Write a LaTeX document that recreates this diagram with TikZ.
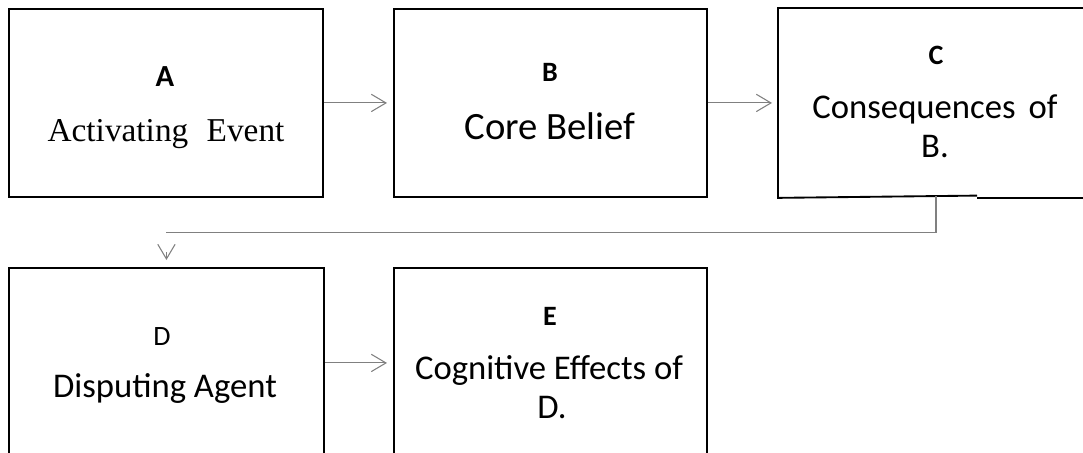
\documentclass[tikz,border=0pt]{standalone}
\usepackage{fontspec}
\setmainfont{Carlito}
\newfontfamily\timesf{Liberation Serif}
\usetikzlibrary{arrows.meta}
\definecolor{conngray}{RGB}{128,128,128}
\begin{document}
\begin{tikzpicture}[x=0.75pt,y=-0.75pt,
  boxline/.style={draw=black,line width=1.4pt},
  box/.style={boxline,inner sep=0pt,anchor=north west},
  connline/.style={draw=conngray,line width=0.8pt},
  conn/.style={connline,-{Straight Barb[length=11pt,width=13pt]}},
  ttl/.style={anchor=base,inner sep=0pt,font=\fontsize{21}{25}\selectfont\bfseries},
  txt/.style={anchor=base,inner sep=0pt,font=\fontsize{26}{31}\selectfont}]
\useasboundingbox (0,0) rectangle (1083,453);
\clip (0,0) rectangle (1083,453);
% boxes
\node[box,minimum width=235.5pt,minimum height=141pt] (A) at (8,8) {};
\node[box,minimum width=234.75pt,minimum height=141pt] (B) at (393,8) {};
\node[box,draw=none,minimum width=255pt,minimum height=141pt] (C) at (778,8) {};
\draw[boxline] (977,195.6) -- (C.south west) -- (C.north west) -- (C.north east);
\draw[boxline] (977,197.6) -- (C.south east |- 0,197.6);
\node[box,minimum width=236.25pt,minimum height=142.5pt] (D) at (8,267) {};
\node[box,minimum width=234.75pt,minimum height=142.5pt] (E) at (393,267) {};
% texts
\node[ttl,font=\fontsize{23}{27}\selectfont\bfseries] (At) at (165,87) {A};
\node[txt,font=\fontsize{25}{30}\timesf] (Ab) at (166,142) {Activating\hspace{0.3em} Event};
\node[ttl] (Bt) at (550,82) {B};
\node[txt,font=\fontsize{29}{34}\selectfont] (Bb) at (550,140) {Core Belief};
\node[ttl] (Ct) at (936,65) {C};
\node[txt] (Cb1) at (935,118) {Consequences\hspace{0.15em} of};
\node[txt] (Cb2) at (935,157) {B.};
\node[ttl,font=\fontsize{21}{25}\selectfont] (Dt) at (162,345) {D};
\node[txt] (Db) at (165,397) {Disputing Agent};
\node[ttl] (Et) at (550,325) {E};
\node[txt] (Eb1) at (549,379) {Cognitive Effects of};
\node[txt] (Eb2) at (552,418) {D.};
% connectors
\draw[conn,shorten >=4.5pt] (A.east) -- (B.west);
\draw[conn,shorten >=4.5pt] (B.east) -- (C.west);
\draw[conn,shorten >=4.5pt] (D.east) -- (E.west);
\coordinate (turn) at (166,232.7);
\draw[connline] (936,196) |- (turn);
\draw[conn,shorten >=5.25pt] ([yshift=11pt]D.north) -- (D.north);
\end{tikzpicture}
\end{document}
